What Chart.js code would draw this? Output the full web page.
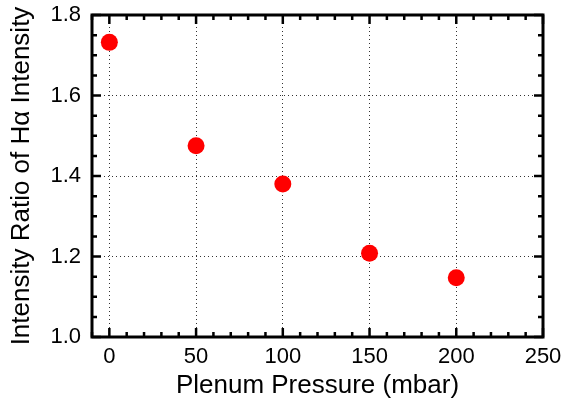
<!DOCTYPE html>
<html>
<head>
<meta charset="utf-8">
<script src="https://cdn.jsdelivr.net/npm/chart.js@4"></script>
<style>
html,body{margin:0;padding:0;background:#fff;}
#wrap{width:563px;height:403px;position:relative;}
</style>
</head>
<body>
<div id="wrap"><canvas id="c" width="563" height="403"></canvas></div>
<script>
const pressures = [0, 50, 100, 150, 200];
const ratios = [1.732, 1.475, 1.380, 1.208, 1.147];
const xTickLabels = [0, 50, 100, 150, 200, 250];
const yTickLabels = [1.0, 1.2, 1.4, 1.6, 1.8];
const xTitle = 'Plenum Pressure (mbar)';
const yTitle = 'Intensity Ratio of H\u03B1 Intensity';

const FONT = "'Liberation Sans', Arial, sans-serif";

function zeroPad(s) { s.paddingTop = 0; s.paddingBottom = 0; s.paddingLeft = 0; s.paddingRight = 0; }

const framePlugin = {
  id: 'frame',
  beforeDatasetsDraw(chart) {
    const {ctx, chartArea: a, scales: {x, y}} = chart;
    ctx.save();
    ctx.strokeStyle = '#000';
    ctx.lineWidth = 2.5;
    ctx.lineCap = 'butt';
    for (let v = -10; v <= 250; v += 10) {
      const px = x.getPixelForValue(v);
      const len = (v % 50 === 0) ? 9 : 5;
      ctx.beginPath();
      ctx.moveTo(px, a.bottom); ctx.lineTo(px, a.bottom - len);
      ctx.moveTo(px, a.top); ctx.lineTo(px, a.top + len);
      ctx.stroke();
    }
    for (let i = 0; i <= 16; i++) {
      const v = 1.0 + i * 0.05;
      const py = y.getPixelForValue(v);
      const len = (i % 4 === 0) ? 9 : 5;
      ctx.beginPath();
      ctx.moveTo(a.left, py); ctx.lineTo(a.left + len, py);
      ctx.moveTo(a.right, py); ctx.lineTo(a.right - len, py);
      ctx.stroke();
    }
    ctx.lineWidth = 3;
    ctx.strokeRect(a.left, a.top, a.right - a.left, a.bottom - a.top);
    ctx.restore();
  }
};

new Chart(document.getElementById('c'), {
  type: 'scatter',
  data: {
    datasets: [{
      data: pressures.map((p, i) => ({x: p, y: ratios[i]})),
      backgroundColor: '#ff0000',
      borderWidth: 0,
      pointRadius: 8.5,
      pointHoverRadius: 8.5
    }]
  },
  options: {
    responsive: false,
    animation: false,
    devicePixelRatio: 1,
    layout: {padding: {top: 15, right: 20, left: 0, bottom: 0}},
    plugins: {legend: {display: false}, tooltip: {enabled: false}},
    scales: {
      x: {
        type: 'linear',
        min: -10, max: 250,
        afterBuildTicks: s => { s.ticks = xTickLabels.map(v => ({value: v})); },
        afterFit: s => { s.height = 66; zeroPad(s); },
        grid: {color: '#333', lineWidth: 1, drawTicks: false},
        border: {display: false, dash: [1, 3]},
        ticks: {color: '#000', font: {family: FONT, size: 22}, padding: 7, maxRotation: 0,
                callback: v => String(v)},
        title: {display: true, text: xTitle, color: '#000', font: {family: FONT, size: 26}, padding: {top: 0, bottom: 2}}
      },
      y: {
        type: 'linear',
        min: 1.0, max: 1.8,
        afterBuildTicks: s => { s.ticks = yTickLabels.map(v => ({value: v})); },
        afterFit: s => { s.width = 92; zeroPad(s); },
        grid: {color: '#333', lineWidth: 1, drawTicks: false},
        border: {display: false, dash: [1, 3]},
        ticks: {color: '#000', font: {family: FONT, size: 22}, padding: 11,
                callback: v => Number(v).toFixed(1)},
        title: {display: true, text: yTitle, color: '#000', font: {family: FONT, size: 26}, padding: {top: 6, bottom: 0}}
      }
    }
  },
  plugins: [framePlugin]
});
</script>
</body>
</html>
